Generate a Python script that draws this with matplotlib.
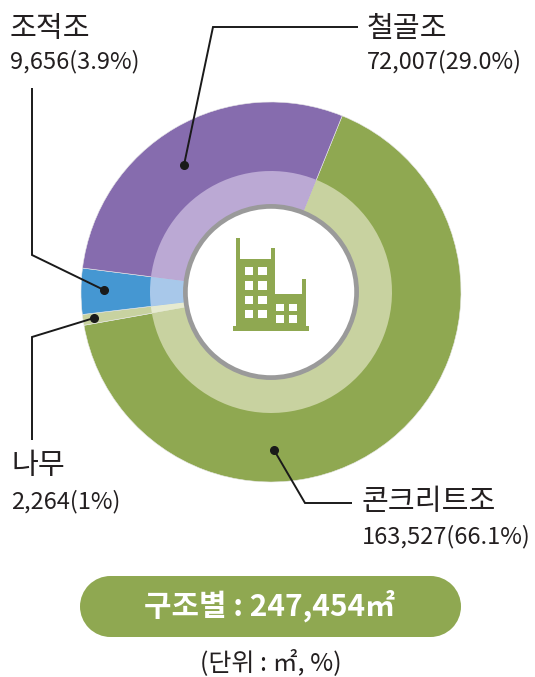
import matplotlib
matplotlib.use('Agg')
import matplotlib.pyplot as plt
from matplotlib.patches import Circle, Rectangle, Polygon

plt.rcParams['font.family'] = ['Noto Sans CJK KR', 'DejaVu Sans']

# order is clockwise from the top of the concrete slice
names = ['콘크리트조', '나무', '조적조', '철골조']
values = [163527, 2264, 9656, 72007]
shares = ['66.1%', '1%', '3.9%', '29.0%']
outer_colors = ['#8fa851', '#c8d2a0', '#4597d2', '#866cae']
inner_colors = ['#c8d2a0', '#e6ead0', '#a8c8ea', '#bba9d4']
total_label = '구조별 : 247,454㎡'
unit_label = '(단위 : ㎡, %)'

W, H = 535, 677


def Y(py):
    return H - py


fig = plt.figure(figsize=(W / 100, H / 100), dpi=100)
ax = fig.add_axes([0, 0, 1, 1])

center = (271, Y(292))
ax.pie(values, colors=outer_colors, radius=190, center=center, startangle=68, counterclock=False,
       wedgeprops={'edgecolor': '#e8e8e8', 'linewidth': 0.4})
ax.pie(values, colors=inner_colors, radius=121, center=center, startangle=68, counterclock=False,
       wedgeprops={'edgecolor': 'none'})
ax.add_patch(Circle(center, 85.6, facecolor='white', edgecolor='#9a9a9a', linewidth=3.4, zorder=5))

ax.set_xlim(0, W)
ax.set_ylim(0, H)
ax.set_aspect('equal')
ax.axis('off')

# building icon, coordinates taken from a 3x crop at (200, 210)
green = '#8fa851'


def zx(v):
    return 200 + v / 3


def zy(v):
    return Y(210 + v / 3)


outline = [(108, 84), (121, 84), (121, 148), (213, 148), (213, 113), (226, 113), (226, 252),
           (305, 252), (305, 208), (319, 208), (319, 348), (108, 348)]
ax.add_patch(Polygon([(zx(a), zy(b)) for a, b in outline], facecolor=green, edgecolor='none', zorder=6))
ax.add_patch(Rectangle((zx(98), zy(362)), 229 / 3, 14 / 3, facecolor=green, edgecolor='none', zorder=6))
for wx in (134, 174):
    for wy in (171, 214, 257, 299):
        ax.add_patch(Rectangle((zx(wx), zy(wy + 25)), 26 / 3, 25 / 3, facecolor='white', edgecolor='none', zorder=7))
for wx in (229, 267):
    for wy in (281, 316):
        ax.add_patch(Rectangle((zx(wx), zy(wy + 22)), 24 / 3, 22 / 3, facecolor='white', edgecolor='none', zorder=7))

# leader lines
leaders = [
    ([(32, 88), (32, 255), (104, 290)]),
    ([(32, 440), (32, 337), (94, 318)]),
    ([(358, 27), (213, 27), (184, 165)]),
    ([(352, 503), (305, 503), (274, 450)]),
]
for pts in leaders:
    ax.plot([p[0] for p in pts], [Y(p[1]) for p in pts], color='#1a1a1a', lw=1.4, zorder=8,
            solid_joinstyle='miter', solid_capstyle='butt')
    ax.plot(pts[-1][0], Y(pts[-1][1]), 'o', color='#1a1a1a', ms=5.5, zorder=9)

# labels
label_pos = {'조적조': (10, 29, 62), '철골조': (367, 29, 62), '나무': (11, 466, 502), '콘크리트조': (362, 502, 537)}
for name, value, share in zip(names, values, shares):
    x, y1, y2 = label_pos[name]
    ax.text(x, Y(y1), name, fontsize=21, va='center', ha='left', color='#231f20', zorder=10)
    ax.text(x, Y(y2), f'{value:,}({share})', fontsize=17, va='center', ha='left', color='#231f20', zorder=10)

# pill: bar with round ends
ax.add_patch(Rectangle((80 + 30.5, Y(637)), 381 - 61, 61, facecolor=green, edgecolor='none', zorder=3))
ax.add_patch(Circle((110.5, Y(606.5)), 30.5, facecolor=green, edgecolor='none', zorder=3))
ax.add_patch(Circle((430.5, Y(606.5)), 30.5, facecolor=green, edgecolor='none', zorder=3))
ax.text(270, Y(606), total_label, fontsize=21.5, fontweight='bold', color='white', ha='center', va='center', zorder=4)
ax.text(271, Y(663), unit_label, fontsize=18, color='#231f20', ha='center', va='center')

fig.savefig('out.png', dpi=100)
